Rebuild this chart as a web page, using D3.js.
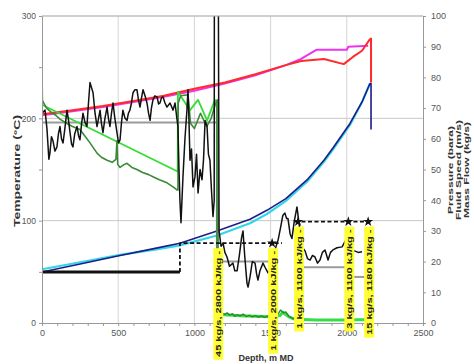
<!DOCTYPE html>
<html>
<head>
<meta charset="utf-8">
<script src="https://cdn.jsdelivr.net/npm/d3@7"></script>
<style>
  body { margin: 0; background: #fff; }
  svg { display: block; }
  .tick text { font-family: "Liberation Sans Narrow", "Arial Narrow", sans-serif; font-size: 9px; fill: #555; }
  .tick line, .domain { stroke: #999; }
  .title { font-family: "Liberation Sans", Arial, sans-serif; font-size: 9px; font-weight: bold; fill: #333; }
  .lbl { font-family: "Liberation Sans Narrow", "Arial Narrow", sans-serif; font-size: 8px; font-weight: bold; fill: #222; }
</style>
</head>
<body>
<div id="chart"></div>
<script>
// depth (m MD) vs value pairs; temperatures on left axis, the rest on right axis
const redTemp = [[0,204],[200,208],[400,212],[600,217],[800,222],[1000,229],[1200,235],[1400,243],[1600,252],[1700,256],[1850,258],[1980,253],[2040,260],[2100,266],[2150,277],[2159,278],[2159,235]];
const magentaTemp = [[0,203],[200,207],[400,211],[600,216],[800,221],[1000,227],[1200,234],[1400,242],[1600,252],[1700,258],[1800,267],[2000,267],[2010,270],[2140,271]];
const blueP = [[0,16.6],[250,19.2],[512,22],[750,24.4],[905,26],[1148,30],[1365,33.8],[1476,36.7],[1600,40.5],[1739,46.6],[1850,53],[1909,57],[2021,65],[2100,72],[2152,78],[2159,78],[2159,63]];
const cyanP = [[0,17.5],[250,19.8],[512,22.2],[750,24],[905,25.3],[1148,28.5],[1365,32.5],[1476,35.5],[1600,39.8],[1739,46],[1850,52.5],[1909,56.5],[2021,64.5],[2100,72],[2152,78]];
const blackTemp = [[0,205],[20,208],[33,189],[45,160],[52,166],[62,182],[72,178],[85,168],[98,172],[108,185],[118,192],[128,180],[138,176],[150,190],[164,208],[174,198],[184,186],[194,175],[203,172],[215,185],[230,192],[240,183],[249,179],[260,195],[269,205],[282,196],[295,192],[305,215],[315,235],[325,230],[335,225],[348,205],[361,192],[371,200],[381,208],[390,195],[400,186],[413,200],[427,211],[436,200],[446,192],[456,205],[466,215],[478,200],[492,186],[502,176],[512,179],[521,195],[531,208],[545,200],[558,198],[567,205],[577,208],[587,215],[597,225],[610,228],[623,228],[633,218],[643,211],[653,220],[663,228],[676,222],[689,215],[699,205],[709,198],[718,210],[728,218],[741,222],[755,221],[765,214],[774,215],[784,220],[794,221],[807,215],[820,211],[840,215],[860,208],[873,215],[885,200],[892,192],[899,150],[905,120],[912,98],[925,143],[938,180],[951,208],[958,228],[964,200],[971,159],[981,170],[991,133],[1004,143],[1014,165],[1024,127],[1037,150],[1050,140],[1060,160],[1070,198],[1083,192],[1092,165],[1102,159],[1112,130],[1122,104],[1130,120],[1131,330],[1157,330]];
const blackSpeed = [[1157,110],[1162,30],[1175,25],[1188,26],[1200,23],[1214,21.5],[1230,18.5],[1253,19.5],[1265,17],[1280,17],[1295,22],[1310,28],[1319,30],[1330,22],[1345,13],[1352,11.7],[1365,15],[1380,20],[1398,19.5],[1408,16],[1417,14],[1430,17],[1450,19.5],[1465,18],[1483,16.3],[1500,18],[1516,22.8],[1530,24],[1549,27],[1565,31],[1580,35],[1594,35.8],[1605,34],[1614,34],[1628,29],[1640,27.5],[1655,33],[1673,37.8],[1685,33],[1693,30],[1710,24.5],[1726,23.5],[1742,21],[1759,20.5],[1775,22],[1791,21.5],[1808,19.5],[1824,20.5],[1840,23],[1857,23.8],[1877,20.5],[1893,23],[1909,23.8],[1936,24.5],[1969,24.8],[2001,27.7],[2010,29],[2030,24],[2050,23.5],[2075,23],[2100,23.2]];
const greenTemp = [[0,237],[3,213],[890,148],[892,226],[971,208],[1024,218],[1083,198],[1135,218],[1148,216]];
const darkGreenTemp = [[0,218],[30,210],[60,206],[90,203],[120,199],[164,195],[200,192],[249,189],[280,183],[315,176],[361,166],[390,162],[427,159],[460,157],[485,160],[492,178],[497,155],[512,152],[540,155],[558,156],[590,152],[623,150],[660,147],[700,145],[728,143],[770,140],[820,137],[860,133],[886,130],[892,130],[894,215],[910,222],[958,223],[975,195],[1000,190],[1040,205],[1080,192],[1110,200],[1140,215],[1150,218],[1152,71]];
const darkGreenFlow = [[1165,3.5],[1180,3.2],[1200,2.8],[1215,3.3],[1230,2.6],[1250,3],[1265,2.2],[1280,2.7],[1300,2.3],[1320,2.9],[1340,2.1],[1360,2.5],[1380,2],[1400,2.4],[1420,1.9],[1440,2.3],[1460,1.8],[1480,2.2],[1500,1.7],[1520,1.9],[1545,2.6],[1565,4.2],[1585,3.3],[1600,3.6],[1620,2.2],[1640,1.6],[1660,1.3]];
const greenFlow = [[1165,2.8],[1300,2.4],[1500,2],[1560,2.4],[1580,3.5],[1620,2],[1660,1.2],[1800,1],[2000,1],[2160,1.1]];
const grayTemp = [[0,196],[1148,196]];
const graySpeed = [[[1168,20],[1500,20]], [[1693,18.2],[2005,18.2]], [[2035,15],[2140,15]]];
const feedSolid = [[0,16.6],[905,16.6]];
const feedDashed = [[[905,16.6],[905,26],[1575,26]], [[1660,33],[2160,33]]];
const feedDepth = [1150, 1510, 1680, 2010, 2140];
const feedLevel = [26, 26, 33, 33, 33];
const feedStar = [false, true, true, true, true];
const feedText = ["45 kg/s, 2800 kJ/kg -", "1 kg/s, 2000 kJ/kg -", "1 kg/s, 1100 kJ/kg -", "3 kg/s, 1100 kJ/kg -", "15 kg/s, 1180 kJ/kg -"];
const depthTicks = [0, 500, 1000, 1500, 2000, 2500];
const tempTicks = [0, 100, 200, 300];
const rightTicks = [0, 10, 20, 30, 40, 50, 60, 70, 80, 90, 100];
const rightTitles = ['Pressure (bara)', 'Fluid Speed (m/s)', 'Mass Flow (kg/s)'];

const width = 474, height = 364;
const pLeft = 42, pRight = 423, pTop = 16, pBottom = 323;

const svg = d3.select('#chart').append('svg').attr('width', width).attr('height', height);

const x = d3.scaleLinear().domain([0, 2500]).range([pLeft, pRight]);
const yT = d3.scaleLinear().domain([0, 300]).range([pBottom, pTop]);
const yR = d3.scaleLinear().domain([0, 100]).range([pBottom, pTop]);

svg.append('defs').append('clipPath').attr('id', 'plot')
  .append('rect').attr('x', pLeft).attr('y', pTop).attr('width', pRight - pLeft).attr('height', pBottom - pTop);

// grid
svg.append('g').selectAll('line').data(depthTicks.slice(1, 5)).enter().append('line')
  .attr('x1', d => x(d)).attr('x2', d => x(d)).attr('y1', pTop).attr('y2', pBottom)
  .attr('stroke', '#d4d4d4');
svg.append('g').selectAll('line').data(tempTicks.slice(1)).enter().append('line')
  .attr('x1', pLeft).attr('x2', pRight).attr('y1', d => yT(d)).attr('y2', d => yT(d))
  .attr('stroke', '#c8c8c8');

const plot = svg.append('g').attr('clip-path', 'url(#plot)');
const lineT = d3.line().x(d => x(d[0])).y(d => yT(d[1]));
const lineR = d3.line().x(d => x(d[0])).y(d => yR(d[1]));

function draw(data, gen, color, w, dash) {
  plot.append('path').datum(data).attr('d', gen)
    .attr('fill', 'none').attr('stroke', color).attr('stroke-width', w)
    .attr('stroke-linejoin', 'round').attr('stroke-dasharray', dash || null);
}

draw(grayTemp, lineT, '#9a9a9a', 2);
graySpeed.forEach(s => draw(s, lineR, '#9a9a9a', 2));
draw(magentaTemp, lineT, '#ee33ee', 2);
draw(redTemp, lineT, '#ff2a2a', 2);
draw(cyanP, lineR, '#33d6e6', 2.2);
draw(blueP, lineR, '#1c1c8a', 1.6);
draw(greenFlow, lineR, '#33dd44', 3);
draw(darkGreenFlow, lineR, '#2d8a2d', 1.4);
draw(greenTemp, lineT, '#33dd33', 1.8);
draw(darkGreenTemp, lineT, '#3a8a3a', 1.6);
plot.append('line').attr('x1', x(1151)).attr('x2', x(1151)).attr('y1', yT(215)).attr('y2', yT(71))
  .attr('stroke', '#4d8a4d').attr('stroke-width', 3);
draw(blackTemp, lineT, '#111', 1.5);
draw(blackSpeed, lineR, '#111', 1.5);
draw(feedSolid, lineR, '#111', 3);
feedDashed.forEach(s => draw(s, lineR, '#111', 1.8, '4,2.5'));

// axes
svg.append('g').attr('transform', `translate(0,${pBottom})`)
  .call(d3.axisBottom(x).tickValues(d3.range(0, 2501, 100)).tickFormat(d => depthTicks.includes(d) ? d : '').tickSize(3).tickPadding(4));
svg.append('g').attr('transform', `translate(${pLeft},0)`)
  .call(d3.axisLeft(yT).tickValues(d3.range(0, 301, 50)).tickFormat(d => tempTicks.includes(d) ? d : '').tickSize(3).tickPadding(3))
  .selectAll('.tick text').style('font-size', '8.5px');
svg.append('g').attr('transform', `translate(${pRight},0)`)
  .call(d3.axisRight(yR).tickValues(rightTicks).tickSize(3).tickPadding(5));
svg.append('line').attr('x1', pLeft).attr('x2', pRight).attr('y1', pTop).attr('y2', pTop).attr('stroke', '#bbb');

// stars and feed-zone labels
svg.append('g').selectAll('path').data(feedDepth.filter((d, i) => feedStar[i])).enter().append('path')
  .attr('d', d3.symbol().type(d3.symbolStar).size(32))
  .attr('transform', d => `translate(${x(d)},${yR(feedLevel[feedDepth.indexOf(d)])})`)
  .attr('fill', '#111');

// source picture is stretched vertically, so vertical text is drawn longer than it is tall
const labels = svg.append('g').selectAll('g').data(feedDepth).enter().append('g')
  .attr('transform', (d, i) => `translate(${x(d) + 1},${yR(feedLevel[i]) + 5}) rotate(-90) scale(1.38,1)`);
labels.append('rect').attr('fill', '#ffff33');
labels.append('text').attr('class', 'lbl').attr('text-anchor', 'end').attr('x', -2).attr('y', 3)
  .text((d, i) => feedText[i]);
labels.each(function() {
  const g = d3.select(this);
  const len = g.select('text').node().getComputedTextLength();
  g.select('rect').attr('x', -len - 4).attr('y', -5).attr('width', len + 4).attr('height', 10);
});

// titles
svg.append('text').attr('class', 'title').attr('text-anchor', 'middle').style('font-size', '9px')
  .attr('transform', 'translate(20,171) rotate(-90) scale(1.55,1)').text('Temperature (°C)');
rightTitles.forEach((t, i) => {
  svg.append('text').attr('class', 'title').attr('text-anchor', 'middle').style('font-size', '8px')
    .attr('transform', `translate(${453 + i * 8},170) rotate(-90) scale(1.5,1)`).text(t);
});
svg.append('text').attr('class', 'title').attr('text-anchor', 'middle')
  .attr('x', 266).attr('y', 361).text('Depth, m MD');
</script>
</body>
</html>
